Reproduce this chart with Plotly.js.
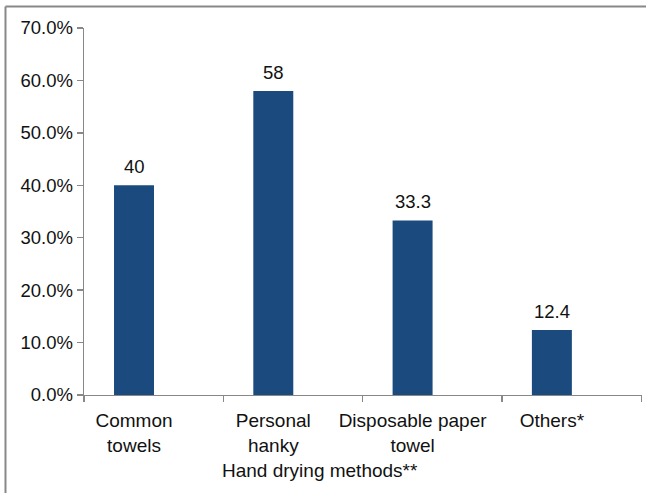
<!DOCTYPE html>
<html>
<head>
<meta charset="utf-8">
<script src="https://cdn.plot.ly/plotly-3.0.1.min.js"></script>
<style>
  html, body { margin: 0; padding: 0; background: #fff; }
  #chart { width: 646px; height: 493px; }
</style>
</head>
<body>
<div id="chart"></div>
<script>
// ---- data ----
const categories = ["Common<br>towels", "Personal<br>hanky", "Disposable paper<br>towel", "Others*"];
const values = [40, 58, 33.3, 12.4];
const valueLabels = ["40", "58", "33.3", "12.4"];
const yTickVals = [0, 10, 20, 30, 40, 50, 60, 70];
const yTickText = ["0.0%", "10.0%", "20.0%", "30.0%", "40.0%", "50.0%", "60.0%", "70.0%"];
const xTitle = "Hand drying methods**";

const positions = categories.map((c, i) => i);
const boundaryTicks = [-1, 0, 1, 2, 3].map(i => i + 0.641);
const xRange = [-0.359, 3.647];

const barColor = "#1a4a7e";
const axisColor = "#888888";
const fontFamily = "'Liberation Sans', Arial, sans-serif";

const trace = {
  type: "bar",
  x: positions,
  y: values,
  width: 0.287,
  marker: { color: barColor },
  hoverinfo: "none"
};

// invisible trace to activate boundary-tick axis
const tickTrace = {
  type: "scatter",
  x: xRange,
  y: [0, 0],
  xaxis: "x2",
  mode: "none",
  hoverinfo: "none",
  showlegend: false
};

const annotations = values.map((v, i) => ({
  x: positions[i], y: v, xref: "x", yref: "y",
  text: valueLabels[i], showarrow: false,
  yanchor: "bottom", yshift: 6,
  font: { family: fontFamily, size: 18.5, color: "#111" }
}));
annotations.push({
  x: 0.423, y: -0.205, xref: "paper", yref: "paper",
  text: xTitle, showarrow: false, yanchor: "middle", xanchor: "center",
  font: { family: fontFamily, size: 19, color: "#111" }
});

const layout = {
  width: 646, height: 493,
  margin: { l: 84, r: 4, t: 28, b: 98 },
  paper_bgcolor: "#fff", plot_bgcolor: "#fff",
  showlegend: false,
  font: { family: fontFamily, color: "#111" },
  xaxis: {
    type: "linear",
    range: xRange,
    tickvals: positions,
    ticktext: categories,
    ticks: "",
    showgrid: false, zeroline: false,
    showline: true, linecolor: axisColor, linewidth: 1.3,
    tickfont: { family: fontFamily, size: 19, color: "#111" },
    ticklabelstandoff: 8,
    fixedrange: true
  },
  xaxis2: {
    overlaying: "x",
    side: "bottom",
    type: "linear",
    range: xRange,
    tickvals: boundaryTicks,
    showticklabels: false,
    ticks: "outside", ticklen: 6, tickwidth: 1.3, tickcolor: axisColor,
    showgrid: false, zeroline: false, showline: false,
    fixedrange: true
  },
  yaxis: {
    range: [0, 70],
    tickvals: yTickVals,
    ticktext: yTickText,
    ticks: "outside", ticklen: 6, tickwidth: 1.3, tickcolor: axisColor,
    showgrid: false, zeroline: false,
    showline: true, linecolor: axisColor, linewidth: 1.3,
    tickfont: { family: fontFamily, size: 18.5, color: "#111" },
    fixedrange: true
  },
  annotations: annotations,
  shapes: [
    { type: "line", xref: "paper", yref: "paper",
      x0: -0.1407, x1: 1.2, y0: 1.0586, y1: 1.0586,
      line: { color: "#888", width: 2 } },
    { type: "line", xref: "paper", yref: "paper",
      x0: -0.1407, x1: -0.1407, y0: 1.0586, y1: -0.4,
      line: { color: "#888", width: 2 } }
  ]
};

Plotly.newPlot("chart", [trace, tickTrace], layout, { displayModeBar: false, staticPlot: true });
</script>
</body>
</html>
